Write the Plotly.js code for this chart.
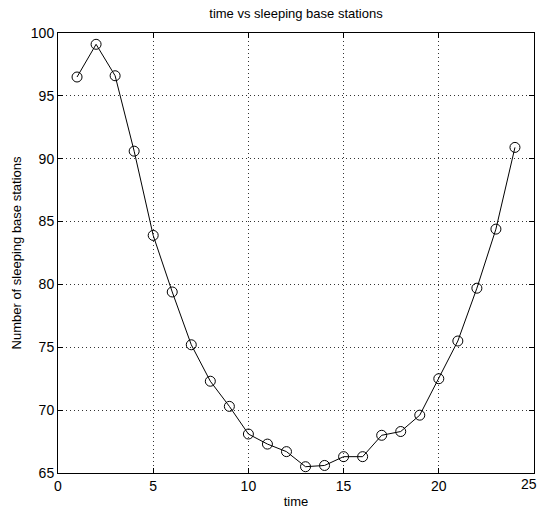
<!DOCTYPE html>
<html>
<head>
<meta charset="utf-8">
<script src="https://cdn.plot.ly/plotly-3.0.1.min.js"></script>
<style>html,body{margin:0;padding:0;background:#fff;}#chart{width:539px;height:519px;}</style>
</head>
<body>
<div id="chart"></div>
<script>
const timeValues = [1,2,3,4,5,6,7,8,9,10,11,12,13,14,15,16,17,18,19,20,21,22,23,24];
const sleepingStations = [96.5,99.1,96.6,90.6,83.9,79.4,75.2,72.3,70.3,68.1,67.3,66.7,65.5,65.6,66.3,66.3,68.0,68.3,69.6,72.5,75.5,79.7,84.4,90.9];
const xTicks = [0,5,10,15,20,25];
const yTicks = [65,70,75,80,85,90,95,100];

const tickFont = {family: '"Liberation Sans Narrow", "Liberation Sans", Arial, sans-serif', size: 14, color: '#000'};
const labelFont = {family: '"Liberation Sans", Arial, sans-serif', size: 13, color: '#000'};

const trace = {
  x: timeValues,
  y: sleepingStations,
  mode: 'lines+markers',
  line: {color: '#000', width: 1},
  marker: {symbol: 'circle-open', size: 10, color: '#000', line: {width: 1, color: '#000'}},
  hoverinfo: 'x+y'
};

const axisCommon = {
  showline: true, linecolor: '#000', linewidth: 1, mirror: 'ticks',
  ticks: 'inside', ticklen: 5, tickcolor: '#000', tickwidth: 1,
  showgrid: true, gridcolor: '#333', gridwidth: 1, griddash: '1px,3px',
  zeroline: false, tickfont: tickFont
};

// last x tick label would overflow the right edge: draw it right-aligned to the edge instead
const lastX = xTicks[xTicks.length - 1];
const xTickText = xTicks.map(v => v === lastX ? '' : String(v));

const layout = {
  width: 539, height: 519,
  margin: {l: 58, r: 5, t: 33, b: 46},
  paper_bgcolor: '#fff', plot_bgcolor: '#fff',
  showlegend: false,
  title: {text: 'time vs sleeping base stations', font: {family: '"Liberation Sans Narrow", "Liberation Sans", Arial, sans-serif', size: 13, color: '#000'}, x: 0.5, xanchor: 'center', xref: 'paper', y: 0.975, yanchor: 'middle'},
  xaxis: Object.assign({}, axisCommon, {
    range: [0, 25], tickvals: xTicks, ticktext: xTickText,
    title: {text: 'time', font: labelFont, standoff: 4}
  }),
  yaxis: Object.assign({}, axisCommon, {
    range: [65, 100], tickvals: yTicks, ticktext: yTicks.map(String),
    title: {text: 'Number of sleeping base stations', font: labelFont, standoff: 6}
  }),
  annotations: [{
    text: String(lastX), x: lastX, xref: 'x', y: 0, yref: 'paper',
    xanchor: 'right', yanchor: 'top', xshift: 5, yshift: -1,
    showarrow: false, font: tickFont
  }]
};

Plotly.newPlot('chart', [trace], layout, {displayModeBar: false, staticPlot: true});
</script>
</body>
</html>
